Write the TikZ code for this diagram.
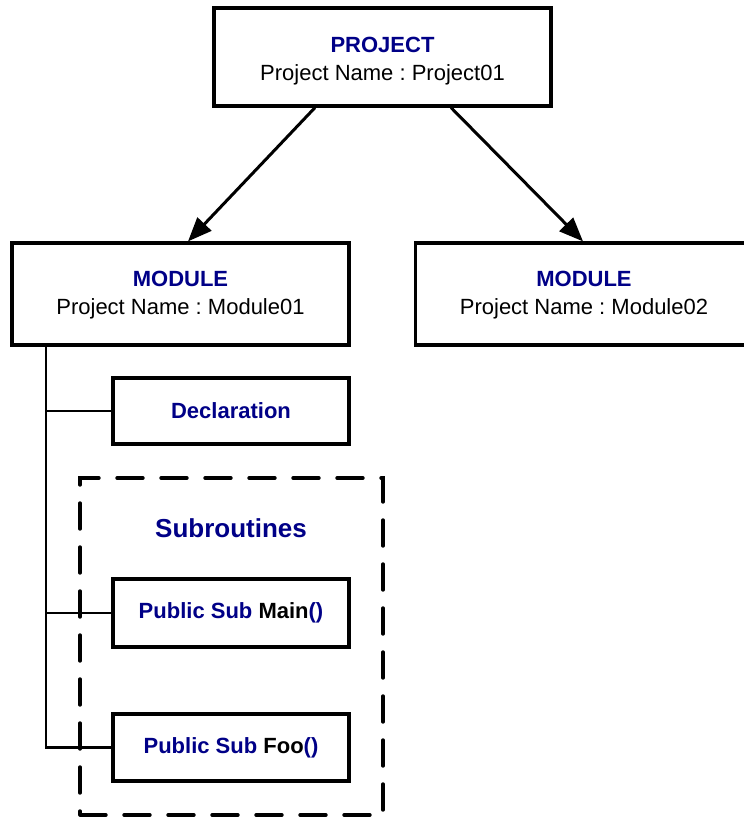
\documentclass[tikz,border=0pt]{standalone}
\usepackage{fontspec}
\setmainfont{Liberation Sans}
\frenchspacing
\usetikzlibrary{arrows.meta,calc}
\definecolor{navyt}{RGB}{0,0,135}
\tikzset{
  box/.style={draw, line width=3.2pt, minimum width=337pt, inner sep=0pt},
  boxtext/.style={align=center, inner sep=0pt, font=\fontsize{22}{28}\selectfont},
  smallbox/.style={draw, line width=3.2pt, minimum width=236pt, inner sep=0pt,
    font=\fontsize{22}{28}\selectfont\bfseries},
  head/.style={text=navyt, font=\fontsize{22}{28}\selectfont\bfseries},
  arr/.style={line width=3pt, -{Triangle[length=24pt,width=19pt]}},
  tree/.style={line width=2.5pt},
  dashbox/.style={draw, line width=3.4pt, dash pattern=on 26pt off 18pt, line cap=round}
}
\begin{document}
\begin{tikzpicture}[x=1pt,y=-1pt]
\useasboundingbox (0,0) rectangle (744,819);
\clip (0,0) rectangle (744,819);
\node[box, minimum height=98pt] (proj) at (382.5,57) {};
\node[boxtext] (projt) at (382.5,61)
  {\textcolor{navyt}{\bfseries PROJECT}\\Project Name : Project01};
\node[box, minimum height=102pt] (m1) at (180.5,294) {};
\node[boxtext] (m1t) at (180.5,295)
  {\textcolor{navyt}{\bfseries MODULE}\\Project Name : Module01};
\node[box, minimum height=102pt] (m2) at (584,294) {};
\node[boxtext] (m2t) at (584,295)
  {\textcolor{navyt}{\bfseries MODULE}\\Project Name : Module02};
\node[smallbox, minimum height=66pt, text=navyt] (decl) at (231,411) {Declaration};
\node[dashbox, minimum width=303pt, minimum height=337pt] (sub) at (231.5,646.5) {};
\node[head, font=\fontsize{26}{30}\selectfont\bfseries] (subt) at (231,528) {Subroutines};
\node[smallbox, minimum height=68pt] (main) at (231,613)
  {\textcolor{navyt}{Public Sub} Main\textcolor{navyt}{()}};
\node[smallbox, minimum height=67pt] (foo) at (231,747.5)
  {\textcolor{navyt}{Public Sub} Foo\textcolor{navyt}{()}};
\draw[arr] ([xshift=-67.5pt]proj.south) -- ([xshift=7.5pt]m1.north);
\draw[arr] ([xshift=68.5pt]proj.south) -- ([xshift=-1pt]m2.north);
\coordinate (spine) at ([xshift=-134.5pt]m1.south);
\draw[tree] (spine) -- (spine |- foo.west) -- (foo.west);
\draw[tree] (spine |- decl.west) -- (decl.west);
\draw[tree] (spine |- main.west) -- (main.west);
\end{tikzpicture}
\end{document}
